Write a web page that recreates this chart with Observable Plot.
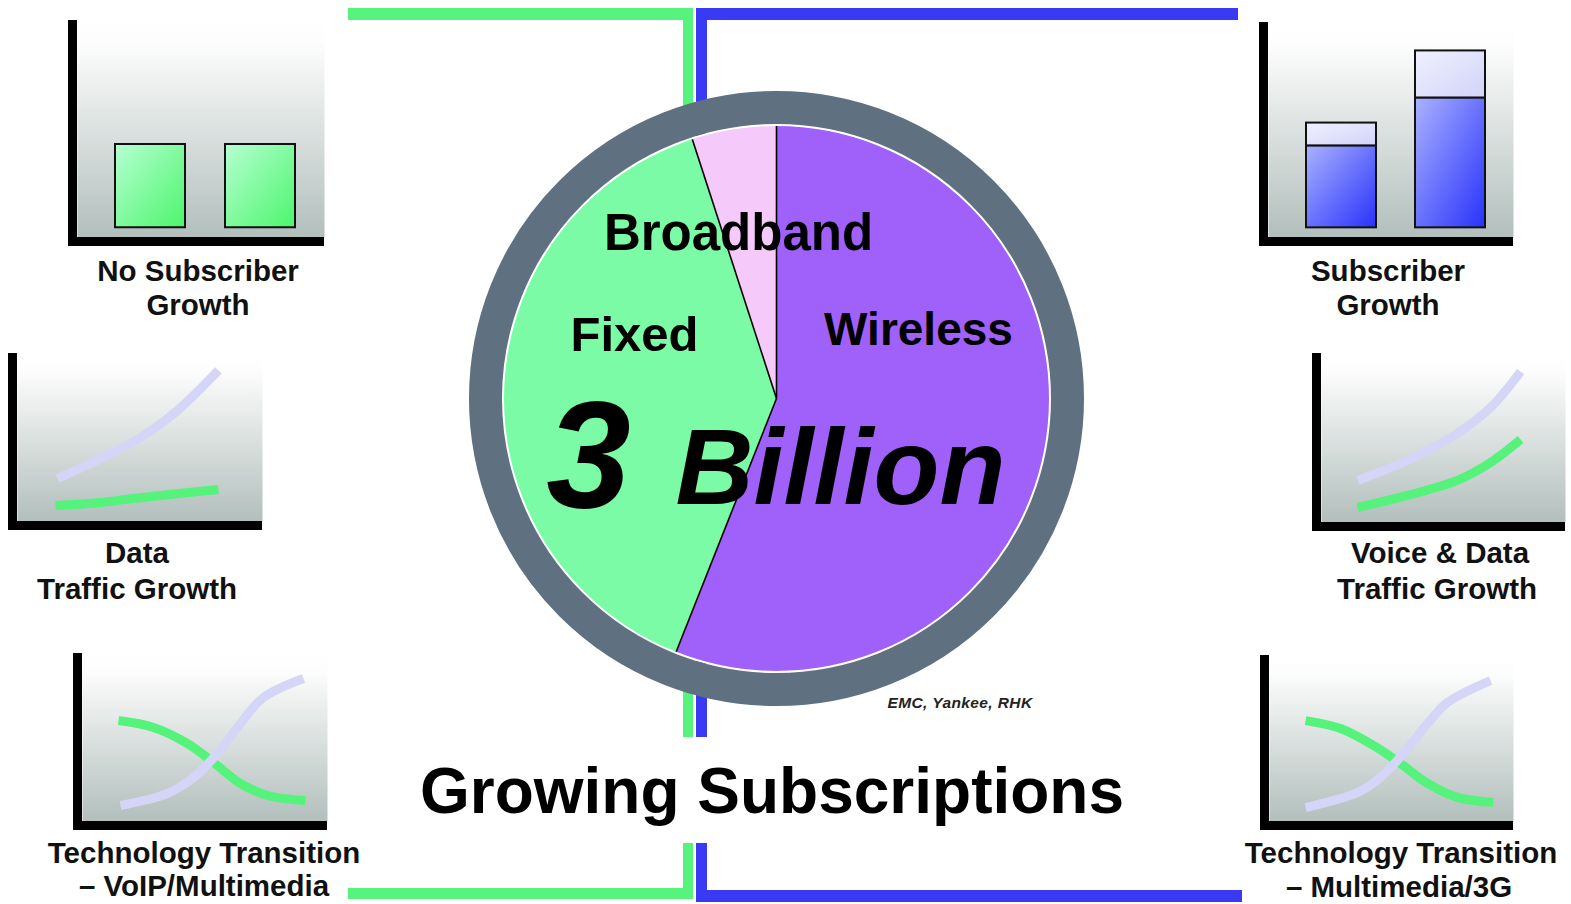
<!DOCTYPE html>
<html><head><meta charset="utf-8">
<script src="https://cdn.jsdelivr.net/npm/d3@7"></script>
<script src="https://cdn.jsdelivr.net/npm/@observablehq/plot@0.6"></script>
<style>
html,body{margin:0;padding:0;background:#fff;}
#stage{position:relative;width:1571px;height:904px;overflow:hidden;background:#fff;font-family:"Liberation Sans",Arial,sans-serif;}
.abs{position:absolute;}
.lbl{position:absolute;white-space:nowrap;font-weight:bold;color:#111;line-height:1;transform:translateX(-50%);}
</style></head><body>
<div id="stage"></div>
<script>
// ---------------- DATA ----------------
// Central pie: share of ~3 billion subscriptions
const pieNames = ["Wireless", "Fixed", "Broadband"];
const pieShares = [56, 39, 5];
const pieTitle = ["3", "Billion"];

// Top-left: no subscriber growth (two equal bars)
const noGrowthCats = ["Before", "After"];
const noGrowthValues = [47, 47];

// Top-right: subscriber growth (stacked bars)
const growthCats = ["Before", "After"];
const growthBase = [46.7, 74];
const growthAdded = [13, 26.8];

// Mid-left: data traffic growth  [x, y]
const dataTrafficNew = [[1.63,2.56],[3.39,3.75],[5.02,5.00],[6.53,6.61],[8.20,8.99]];
const dataTrafficOld = [[1.55,0.95],[3.39,1.13],[4.73,1.37],[8.20,1.90]];

// Mid-right: voice & data traffic growth
const voiceDataNew = [[1.48,2.49],[3.52,3.67],[5.57,5.27],[6.93,6.80],[8.16,8.93]];
const voiceDataOld = [[1.48,0.89],[3.52,1.60],[5.57,2.49],[6.93,3.55],[8.16,4.91]];

// Bottom-left: technology transition VoIP/Multimedia
const voipOld = [[1.47,6.01],[2.90,5.60],[4.29,4.64],[5.35,3.51],[6.45,2.26],[7.55,1.55],[9.10,1.25]];
const voipNew = [[1.55,0.95],[3.47,1.67],[4.53,2.62],[5.51,4.05],[6.45,5.83],[7.39,7.38],[9.02,8.51]];

// Bottom-right: technology transition Multimedia/3G
const mm3gOld = [[1.48,6.08],[2.91,5.60],[4.26,4.58],[5.37,3.49],[6.48,2.29],[7.70,1.45],[9.18,1.14]];
const mm3gNew = [[1.48,0.84],[3.61,1.75],[4.55,2.65],[5.49,4.10],[6.48,5.90],[7.30,7.17],[9.06,8.49]];

// Text
const panelTitles = [
  ["No Subscriber", "Growth"],
  ["Data", "Traffic Growth"],
  ["Technology Transition", "\u2013 VoIP/Multimedia"],
  ["Subscriber", "Growth"],
  ["Voice & Data", "Traffic Growth"],
  ["Technology Transition", "\u2013 Multimedia/3G"]
];
const mainTitle = "Growing Subscriptions";
const sourceNote = "EMC, Yankee, RHK";

// ---------------- STYLE ----------------
const FONT = "Liberation Sans, Arial, sans-serif";
const C_GREEN = "#56f47c";
const C_BLUE = "#3a3af4";
const C_LINE_GREEN = "#55f27c";
const C_LINE_LAV = "#d5d5f7";
const C_RING = "#5f7181";
const pieColors = ["#a061fa", "#7bfba5", "#f6c9fb"];
const AX = 9;

const stage = document.getElementById("stage");

// gradient defs (document-wide)
const defs = document.createElementNS("http://www.w3.org/2000/svg", "svg");
defs.setAttribute("width", 0); defs.setAttribute("height", 0);
defs.style.position = "absolute";
defs.innerHTML = `
<defs>
 <linearGradient id="bgGrad" x1="0" y1="0" x2="0" y2="1">
  <stop offset="0" stop-color="#ffffff"/>
  <stop offset="0.1" stop-color="#fdfdfd"/>
  <stop offset="1" stop-color="#b2bfbc"/>
 </linearGradient>
 <linearGradient id="greenBar" x1="0" y1="0" x2="1" y2="1">
  <stop offset="0" stop-color="#b6ffd2"/>
  <stop offset="1" stop-color="#4df56c"/>
 </linearGradient>
 <linearGradient id="blueBar" x1="0" y1="0" x2="1" y2="1">
  <stop offset="0" stop-color="#aab2ff"/>
  <stop offset="1" stop-color="#2832fa"/>
 </linearGradient>
 <linearGradient id="blueTop" x1="0" y1="0" x2="1" y2="1">
  <stop offset="0" stop-color="#f0f0ff"/>
  <stop offset="1" stop-color="#d2d3f8"/>
 </linearGradient>
</defs>`;
stage.appendChild(defs);

// connector lines (decoration)
function block(l, t, w, h, c) {
  const d = document.createElement("div");
  d.className = "abs";
  Object.assign(d.style, {left: l + "px", top: t + "px", width: w + "px", height: h + "px", background: c});
  stage.appendChild(d);
}
block(348, 8, 345, 12, C_GREEN);
block(683, 8, 10, 729, C_GREEN);
block(683, 843, 10, 56, C_GREEN);
block(348, 888, 345, 11, C_GREEN);
block(696, 8, 542, 12, C_BLUE);
block(696, 8, 11, 729, C_BLUE);
block(696, 843, 11, 59, C_BLUE);
block(696, 890, 546, 12, C_BLUE);

function place(node, l, t) {
  const d = document.createElement("div");
  d.className = "abs";
  d.style.left = l + "px"; d.style.top = t + "px";
  d.appendChild(node);
  stage.appendChild(d);
}

// L-shaped axes decoration drawn from plot dimensions
const lAxes = (index, scales, values, dims) => {
  const {width, height, marginLeft, marginBottom, marginTop, marginRight} = dims;
  const g = d3.create("svg:g");
  g.append("rect").attr("x", marginLeft - AX).attr("y", marginTop)
    .attr("width", AX).attr("height", height - marginTop - marginBottom + AX).attr("fill", "#000");
  g.append("rect").attr("x", marginLeft - AX).attr("y", height - marginBottom)
    .attr("width", width - marginLeft - marginRight + AX).attr("height", AX).attr("fill", "#000");
  return g.node();
};

function panel({L, T, R, B, x, y, color, marks}) {
  const p = Plot.plot({
    width: R - L + AX, height: B - T + AX,
    marginLeft: AX, marginBottom: AX, marginTop: 0, marginRight: 0,
    x, y, color,
    style: {background: "transparent", overflow: "visible"},
    marks: [Plot.frame({fill: "url(#bgGrad)", stroke: "none"}), ...marks, lAxes]
  });
  place(p, L - AX, T);
}

const bandX = (domain) => ({type: "band", domain, paddingInner: 0.36, paddingOuter: 0.30, align: 0.57, axis: null});
const barY = {domain: [-5.5, 117], axis: null};
const lineXY = {domain: [0, 10], axis: null};

function curve(pts, stroke) {
  return Plot.line(pts, {x: d => d[0], y: d => d[1], stroke, strokeWidth: 9, curve: "catmull-rom", strokeLinecap: "butt"});
}

// Panel 1: No subscriber growth
panel({L: 77, T: 20, R: 324, B: 237, x: bandX(noGrowthCats), y: barY,
  marks: [Plot.barY(noGrowthCats.map((c, i) => ({cat: c, value: noGrowthValues[i]})),
    {x: "cat", y: "value", fill: "url(#greenBar)", stroke: "#111", strokeWidth: 2})]});

// Panel 4: Subscriber growth
const growthData = growthCats.flatMap((c, i) => [
  {cat: c, part: "Subscribers", value: growthBase[i]},
  {cat: c, part: "Added", value: growthAdded[i]}
]);
panel({L: 1268, T: 22, R: 1513, B: 237, x: bandX(growthCats), y: barY,
  color: {domain: ["Subscribers", "Added"], range: ["url(#blueBar)", "url(#blueTop)"]},
  marks: [Plot.barY(growthData, {x: "cat", y: "value", fill: "part", stroke: "#111", strokeWidth: 2})]});

// Panel 2: Data traffic growth
panel({L: 17, T: 353, R: 262, B: 521, x: lineXY, y: lineXY,
  marks: [curve(dataTrafficNew, C_LINE_LAV), curve(dataTrafficOld, C_LINE_GREEN)]});

// Panel 5: Voice & data traffic growth
panel({L: 1321, T: 353, R: 1565, B: 522, x: lineXY, y: lineXY,
  marks: [curve(voiceDataNew, C_LINE_LAV), curve(voiceDataOld, C_LINE_GREEN)]});

// Panel 3: Technology transition VoIP
panel({L: 82, T: 653, R: 327, B: 821, x: lineXY, y: lineXY,
  marks: [curve(voipOld, C_LINE_GREEN), curve(voipNew, C_LINE_LAV)]});

// Panel 6: Technology transition 3G
panel({L: 1269, T: 655, R: 1513, B: 821, x: lineXY, y: lineXY,
  marks: [curve(mm3gOld, C_LINE_GREEN), curve(mm3gNew, C_LINE_LAV)]});

// ---------------- PIE ----------------
const arcs = d3.pie().sort(null).value(d => d)(pieShares);
const slicePts = arcs.flatMap((a, i) => {
  const name = pieNames[i];
  const n = Math.max(2, Math.ceil((a.endAngle - a.startAngle) / (Math.PI / 180)));
  const pts = [{x: 0, y: 0, name}];
  for (let k = 0; k <= n; k++) {
    const t = a.startAngle + (a.endAngle - a.startAngle) * k / n;
    pts.push({x: Math.sin(t), y: Math.cos(t), name});
  }
  pts.push({x: 0, y: 0, name});
  return pts;
});
const PR = 320 / 273;
const pieText = (text, dx, dy, fontSize, italic) => Plot.text([text], {
  frameAnchor: "middle", text: d => d, dx, dy, fontSize, fontWeight: "bold",
  fontStyle: italic ? "italic" : "normal", fontFamily: FONT, lineAnchor: "bottom", fill: "#000"
});
const pie = Plot.plot({
  width: 640, height: 640, margin: 0,
  x: {domain: [-PR, PR], axis: null}, y: {domain: [-PR, PR], axis: null},
  color: {domain: pieNames, range: pieColors},
  style: {background: "transparent", overflow: "visible"},
  marks: [
    Plot.line(slicePts, {x: "x", y: "y", z: "name", fill: "name", stroke: "none", curve: "linear"}),
    Plot.link(arcs, {x1: 0, y1: 0, x2: a => Math.sin(a.startAngle), y2: a => Math.cos(a.startAngle), stroke: "#000", strokeWidth: 1.6}),
    Plot.dot([0], {frameAnchor: "middle", r: 273.5, stroke: "#fff", strokeWidth: 2, fill: "none"}),
    Plot.dot([0], {frameAnchor: "middle", r: 291, stroke: C_RING, strokeWidth: 33, fill: "none"}),
    pieText(pieNames[2], -38, -149, 51, false),
    pieText(pieNames[1], -142, -48, 49, false),
    pieText(pieNames[0], 142, -54, 46, false),
    pieText(pieTitle[0], -188, 109, 152, true),
    pieText(pieTitle[1], 64, 105, 108, true)
  ]
});
place(pie, 456, 78);

// ---------------- TEXT ----------------
function label(text, cx, baseline, size, extra = {}) {
  const d = document.createElement("div");
  d.className = "lbl";
  d.textContent = text;
  Object.assign(d.style, {left: cx + "px", top: (baseline - 0.8465 * size) + "px", fontSize: size + "px"}, extra);
  stage.appendChild(d);
}
const labelPos = [
  [[198, 281], [198, 315]],
  [[137, 563], [137, 599]],
  [[204, 863], [204, 896]],
  [[1388, 281], [1388, 315]],
  [[1440, 563], [1437, 599]],
  [[1401, 863], [1399, 897]]
];
panelTitles.forEach((lines, i) => lines.forEach((t, j) => label(t, labelPos[i][j][0], labelPos[i][j][1], 29.5)));
label(mainTitle, 772, 813, 64, {color: "#000"});
label(sourceNote, 960, 708, 15.5, {fontStyle: "italic", color: "#222", letterSpacing: "0.4px"});
</script>
</body></html>
